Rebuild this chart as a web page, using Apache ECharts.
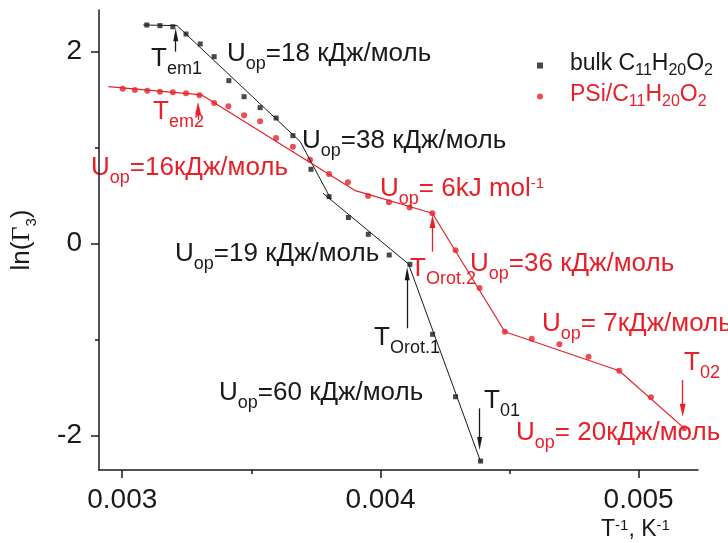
<!DOCTYPE html>
<html>
<head>
<meta charset="UTF-8">
<title>ln(Γ3) vs 1/T</title>
<style>
  html, body { margin: 0; padding: 0; background: #fff; }
  #chart { width: 728px; height: 543px; }
</style>
</head>
<body>
<div id="chart"></div>
<script src="https://cdn.jsdelivr.net/npm/echarts@6/dist/echarts.min.js"></script>
<script>
// bulk C11H20O2 (black squares)
var bulkX = [0.003095, 0.003146, 0.003196, 0.003247, 0.003302, 0.003356, 0.003413, 0.003472, 0.003534, 0.003596,
             0.003661, 0.003731, 0.003801, 0.003876, 0.003953, 0.004034, 0.004114, 0.004202, 0.004291, 0.004388];
var bulkY = [2.278, 2.271, 2.260, 2.184, 2.080, 1.948, 1.698, 1.531, 1.417, 1.309,
             1.125, 0.775, 0.490, 0.273, 0.098, -0.118, -0.215, -0.944, -1.594, -2.264];

// PSi/C11H20O2 (red circles)
var psiX = [0.003002, 0.003049, 0.003097, 0.003146, 0.003196, 0.003247, 0.003299, 0.003356, 0.003411, 0.003472,
            0.003534, 0.003596, 0.003661, 0.003727, 0.003801, 0.003874, 0.003952, 0.004033, 0.004113, 0.004201,
            0.004291, 0.004384, 0.004482, 0.004586, 0.004693, 0.004806, 0.004925, 0.005048, 0.005177];
var psiY = [1.615, 1.601, 1.594, 1.583, 1.577, 1.567, 1.546, 1.466, 1.431, 1.339,
            1.275, 1.101, 1.010, 0.875, 0.726, 0.640, 0.497, 0.431, 0.377, 0.317,
            -0.069, -0.461, -0.917, -0.990, -1.048, -1.177, -1.323, -1.600, -1.923];

// linear fit segments (break points)
var bulkFitAX = [0.0030815, 0.0032123, 0.0036896, 0.0038079];
var bulkFitAY = [2.278, 2.271, 1.0625, 0.466];
var bulkFitBX = [0.0037776, 0.0041087, 0.0043880];
var bulkFitBY = [0.525, -0.211, -2.269];
var psiFitX = [0.0029457, 0.0033081, 0.0039030, 0.0042010, 0.0044820, 0.0049247, 0.0051769];
var psiFitY = [1.635, 1.549, 0.552, 0.317, -0.917, -1.323, -1.923];

// arrows: [x, yFrom, yTo]
var bulkArrows = [[0.0032072, 2.0, 2.176], [0.0041036, -0.881, -0.314], [0.0043842, -1.715, -2.081]];
var psiArrows = [[0.0032938, 1.289, 1.411], [0.0042018, -0.083, 0.231], [0.0051707, -1.420, -1.734]];

var xTicks = [0.003, 0.004, 0.005];
var yTicks = [-2, 0, 2];

var BLACK = '#1a1a1a';
var RED = '#e8202a';
var FONT = 'Liberation Sans, Arial, sans-serif';

function zip(xs, ys) {
    return xs.map(function (x, i) { return [x, ys[i]]; });
}
function arrowLines(list) {
    return list.map(function (a) {
        return [{ coord: [a[0], a[1]] }, { coord: [a[0], a[2]] }];
    });
}
function richFor(color, big, small, sup, subLh) {
    return {
        m: { fontSize: big, fontFamily: FONT, lineHeight: big + 2, verticalAlign: 'top', fill: color, color: color },
        s: { fontSize: small, fontFamily: FONT, lineHeight: subLh, verticalAlign: 'bottom', fill: color, color: color },
        p: { fontSize: sup, fontFamily: FONT, lineHeight: sup + 1, verticalAlign: 'top', fill: color, color: color }
    };
}

// annotation texts (left, top of text box)
var notes = [
    ['{m|U}{s|op}{m|=18 кДж/моль}', 227, 41, BLACK],
    ['{m|U}{s|op}{m|=38 кДж/моль}', 302, 128, BLACK],
    ['{m|U}{s|op}{m|=16кДж/моль}', 91, 155, RED],
    ['{m|U}{s|op}{m|= 6kJ mol}{p|-1}', 380, 176, RED],
    ['{m|U}{s|op}{m|=19 кДж/моль}', 175, 241, BLACK],
    ['{m|T}{s|Orot.2}', 410, 256, RED],
    ['{m|U}{s|op}{m|=36 кДж/моль}', 470, 251, RED],
    ['{m|T}{s|Orot.1}', 374, 325, BLACK],
    ['{m|U}{s|op}{m|= 7кДж/моль}', 542, 311, RED],
    ['{m|U}{s|op}{m|=60 кДж/моль}', 219, 380, BLACK],
    ['{m|T}{s|01}', 484, 388, BLACK],
    ['{m|T}{s|02}', 684, 350, RED],
    ['{m|U}{s|op}{m|= 20кДж/моль}', 516, 420, RED],
    ['{m|T}{s|em1}', 151, 46, BLACK],
    ['{m|T}{s|em2}', 153, 99, RED]
];

var graphics = notes.map(function (n) {
    return {
        type: 'text', x: n[1], y: n[2], silent: true,
        style: {
            text: n[0], rich: richFor(n[3], 26, 18, 15, 32), fill: n[3],
            font: '26px ' + FONT, align: 'left', verticalAlign: 'top'
        }
    };
});
graphics.push({
    type: 'text', x: 601, y: 518, silent: true,
    style: {
        text: '{m|T}{p|-1}{m|, K}{p|-1}', rich: richFor(BLACK, 23, 15, 15, 26), fill: BLACK,
        font: '23px ' + FONT, align: 'left', verticalAlign: 'top'
    }
});

var legendRich = {
    bm: { fontSize: 23, fontFamily: FONT, lineHeight: 24, verticalAlign: 'top', color: BLACK },
    bs: { fontSize: 16, fontFamily: FONT, lineHeight: 27, verticalAlign: 'bottom', color: BLACK },
    rm: { fontSize: 23, fontFamily: FONT, lineHeight: 24, verticalAlign: 'top', color: RED },
    rs: { fontSize: 16, fontFamily: FONT, lineHeight: 27, verticalAlign: 'bottom', color: RED }
};

var chart = echarts.init(document.getElementById('chart'), null, { renderer: 'canvas' });

chart.setOption({
    animation: false,
    backgroundColor: '#fff',
    grid: { left: 99, right: 30, top: 10, bottom: 73, containLabel: false, outerBoundsMode: 'none' },
    legend: {
        orient: 'vertical', left: 532, top: 47, itemGap: 4,
        itemWidth: 6, itemHeight: 6, selectedMode: false,
        data: [{ name: 'bulk C11H20O2' }, { name: 'PSi/C11H20O2' }],
        formatter: function (name) {
            if (name === 'bulk C11H20O2') {
                return '{bm|bulk C}{bs|11}{bm|H}{bs|20}{bm|O}{bs|2}';
            }
            return '{rm|PSi/C}{rs|11}{rm|H}{rs|20}{rm|O}{rs|2}';
        },
        textStyle: { fontFamily: FONT, fontSize: 23, padding: [0, 0, 0, 22], rich: legendRich }
    },
    xAxis: {
        type: 'value', min: 0.00291, max: 0.00523,
        minInterval: 0.001, maxInterval: 0.001,
        splitLine: { show: false },
        axisLine: { show: true, onZero: false, lineStyle: { color: BLACK, width: 1.5 } },
        axisTick: { show: true, inside: false, length: 8, customValues: xTicks, lineStyle: { color: BLACK, width: 1.5 } },
        minorTick: { show: true, splitNumber: 2, length: 4, lineStyle: { color: BLACK, width: 1.5 } },
        axisLabel: {
            customValues: xTicks, margin: 16, color: BLACK, fontFamily: FONT, fontSize: 28,
            formatter: function (v) { return v.toFixed(3); }
        }
    },
    yAxis: {
        type: 'value', min: -2.357, max: 2.434,
        minInterval: 2, maxInterval: 2,
        name: '{a|ln(}{g|Γ}{b|3}{a|)}', nameLocation: 'middle', nameGap: 60, nameRotate: 90,
        nameMoveOverlap: false,
        nameTextStyle: {
            rich: {
                a: { fontSize: 26, fontFamily: FONT, color: BLACK, lineHeight: 28, verticalAlign: 'top' },
                g: { fontSize: 26, fontFamily: 'Liberation Serif, serif', color: BLACK, lineHeight: 28, verticalAlign: 'top' },
                b: { fontSize: 15, fontFamily: FONT, color: BLACK, lineHeight: 30, verticalAlign: 'bottom' }
            }
        },
        splitLine: { show: false },
        axisLine: { show: true, onZero: false, lineStyle: { color: BLACK, width: 1.5 } },
        axisTick: { show: true, inside: false, length: 8, customValues: yTicks, lineStyle: { color: BLACK, width: 1.5 } },
        minorTick: { show: true, splitNumber: 2, length: 4, lineStyle: { color: BLACK, width: 1.5 } },
        axisLabel: {
            customValues: yTicks, margin: 17, color: BLACK, fontFamily: FONT, fontSize: 28,
            formatter: function (v) { return String(Math.round(v)); }
        }
    },
    graphic: graphics,
    series: [
        {
            name: 'bulk fit 1', type: 'line', data: zip(bulkFitAX, bulkFitAY),
            symbol: 'none', silent: true, lineStyle: { color: BLACK, width: 1 },
            markLine: {
                silent: true, symbol: ['none', 'triangle'], symbolSize: [5, 13],
                lineStyle: { color: BLACK, width: 1.3, type: 'solid' },
                label: { show: false }, emphasis: { disabled: true },
                data: arrowLines(bulkArrows)
            }
        },
        {
            name: 'bulk fit 2', type: 'line', data: zip(bulkFitBX, bulkFitBY),
            symbol: 'none', silent: true, lineStyle: { color: BLACK, width: 1 }
        },
        {
            name: 'psi fit', type: 'line', data: zip(psiFitX, psiFitY),
            symbol: 'none', silent: true, lineStyle: { color: RED, width: 1.2 },
            markLine: {
                silent: true, symbol: ['none', 'triangle'], symbolSize: [6, 13],
                lineStyle: { color: RED, width: 1.3, type: 'solid' },
                label: { show: false }, emphasis: { disabled: true },
                data: arrowLines(psiArrows)
            }
        },
        {
            name: 'bulk C11H20O2', type: 'scatter', data: zip(bulkX, bulkY),
            symbol: 'rect', symbolSize: 5, itemStyle: { color: BLACK }
        },
        {
            name: 'PSi/C11H20O2', type: 'scatter', data: zip(psiX, psiY),
            symbol: 'circle', symbolSize: 6, itemStyle: { color: RED }
        }
    ]
});
</script>
</body>
</html>
